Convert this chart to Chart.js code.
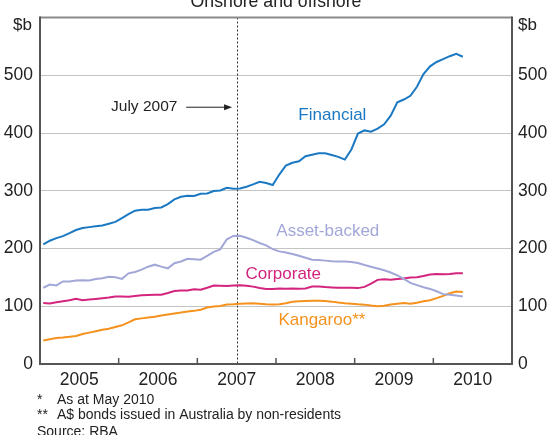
<!DOCTYPE html>
<html>
<head>
<meta charset="utf-8">
<script src="https://cdn.jsdelivr.net/npm/chart.js@4.4.0/dist/chart.umd.min.js"></script>
<style>
  html, body { margin: 0; padding: 0; background: #fff; }
  canvas { display: block; }
</style>
</head>
<body>
<canvas id="bonds" width="551" height="435"></canvas>
<script>
const FONT = '"Liberation Sans", Arial, sans-serif'

// x axis runs in months from Jan 2005 (0) to end of 2010 (72)
const years = ['2005', '2006', '2007', '2008', '2009', '2010']
const yTicks = [0, 100, 200, 300, 400, 500, 600]

// monthly, Jan 2005 - May 2010, $b
const financial = [
  207, 213.5, 218, 221.5, 226.5, 232, 235.5, 237, 238.5, 240, 243, 246,
  252.6, 259.4, 265.5, 267, 267, 270, 271, 277, 285, 289.5, 291.4, 290.8,
  294.9, 295.4, 299.5, 300.6, 305, 303.5, 304, 307, 311, 315.5, 313.5, 310,
  328, 343.5, 348.5, 351, 359.8, 362.5, 365, 365, 362, 358.6, 354, 371.5,
  399, 404.5, 402.3, 407.5, 415, 430, 453, 458, 464.5, 480, 502, 515.5,
  523, 528, 533, 537, 532
]
const assetBacked = [
  132, 137.5, 136, 143, 143, 144.6, 145, 144.6, 147, 148.6, 150.9, 150.3,
  147.4, 157, 159.4, 163.4, 168.5, 172, 168.6, 165.7, 174.5, 177.5, 182.3, 181.5,
  180.6, 187.4, 194.3, 198.5, 216, 221.7, 222, 218.5, 214.5, 209.5, 205.5, 199,
  195, 193, 190.5, 187.5, 184, 180.5, 180, 179, 178, 177.7, 177.7, 176.8,
  175, 171.5, 168.3, 165.5, 162.3, 158.5, 153.5, 147.5, 140.5, 136.5, 133, 130,
  126, 121, 120, 118.5, 117
]
const corporate = [
  105.5, 104.8, 107, 108.6, 110.3, 113, 110.5, 111.5, 112.6, 113.7, 115, 117,
  117, 116.6, 117.7, 119, 119.4, 120, 120, 123, 126.3, 127.4, 127.4, 129.5,
  128.6, 132, 136, 135.4, 135, 136, 136.5, 135.5, 134, 131.5, 130, 130,
  130.6, 130.5, 130.8, 130.4, 130.9, 134, 134.3, 133.2, 132.6, 132, 132, 132,
  131.4, 133.5, 139, 145.7, 146.8, 145.8, 147, 148, 149.7, 150.3, 152.4, 154.8,
  156, 155.4, 156, 157, 157
]
const kangaroo = [
  40.6, 42.8, 45, 45.8, 47, 48.6, 52, 54.3, 56.6, 59.4, 61, 64,
  67, 72, 77.5, 79, 80.6, 81.7, 84, 85.7, 87.4, 89, 91, 92,
  94, 97.7, 99.4, 100.6, 103, 103.4, 104.5, 104.8, 105, 104.5, 103.5, 103,
  103.5, 105.2, 107.7, 108.8, 109.3, 109.7, 109.6, 109, 108, 106.3, 105, 104.5,
  103.5, 102.8, 101.3, 100.2, 100.8, 103, 104.5, 105.7, 104.3, 106, 108.8, 110.5,
  114, 118, 122.5, 125.5, 124.5
]

const july2007 = 30

// series labels sit on the plot in data units (month, $b)
const seriesLabels = [
  { text: 'Financial', x: 44.6, y: 430, color: '#1b79c3' },
  { text: 'Asset-backed', x: 43.9, y: 230, color: '#a3a7d8' },
  { text: 'Corporate', x: 37.1, y: 156, color: '#d3247e' },
  { text: 'Kangaroo**', x: 43.0, y: 75, color: '#f5921e' }
]

const footnotes = [
  ['*', 'As at May 2010'],
  ['**', 'A$ bonds issued in Australia by non-residents'],
  ['Source: RBA', '']
]

const toPoints = arr => arr.map((v, i) => ({ x: i + 0.5, y: v }))

const line = (label, data, color) => ({
  label,
  data: toPoints(data),
  borderColor: color,
  borderWidth: 2,
  pointRadius: 0,
  tension: 0,
  fill: false
})

// frame, year ticks, July 2007 marker and all the loose text
const decorations = {
  id: 'decorations',
  beforeDatasetsDraw(chart) {
    const { ctx, chartArea, scales } = chart
    const xp = scales.x.getPixelForValue(july2007)
    ctx.save()
    ctx.strokeStyle = '#333'
    ctx.lineWidth = 1
    ctx.setLineDash([2, 2])
    ctx.beginPath()
    ctx.moveTo(Math.round(xp) + 0.5, chartArea.top)
    ctx.lineTo(Math.round(xp) + 0.5, chartArea.bottom)
    ctx.stroke()
    ctx.restore()
  },
  afterDraw(chart) {
    const { ctx, chartArea: a, scales } = chart
    const x = scales.x, y = scales.y
    ctx.save()

    // plot frame
    ctx.lineWidth = 2
    ctx.strokeStyle = '#8a8a8a'
    ctx.beginPath()
    ctx.moveTo(a.left, a.top)
    ctx.lineTo(a.right, a.top)
    ctx.stroke()
    ctx.strokeStyle = '#555'
    ctx.beginPath()
    ctx.moveTo(a.left, a.top - 1)
    ctx.lineTo(a.left, a.bottom)
    ctx.lineTo(a.right, a.bottom)
    ctx.lineTo(a.right, a.top - 1)
    ctx.stroke()

    // year boundary ticks, pointing up into the plot
    ctx.lineWidth = 1.5
    for (let m = 12; m < 72; m += 12) {
      const px = x.getPixelForValue(m)
      ctx.beginPath()
      ctx.moveTo(px, a.bottom)
      ctx.lineTo(px, a.bottom - 6)
      ctx.stroke()
    }

    // unit labels
    ctx.fillStyle = '#222'
    ctx.font = '17px ' + FONT
    ctx.textBaseline = 'middle'
    ctx.textAlign = 'right'
    ctx.fillText('$b', a.left - 8, a.top + 8)
    ctx.textAlign = 'left'
    ctx.fillText('$b', a.right + 6, a.top + 8)

    // title, mostly above the canvas
    ctx.textAlign = 'center'
    ctx.textBaseline = 'alphabetic'
    ctx.font = '17.7px ' + FONT
    ctx.fillText('Onshore and offshore', (a.left + a.right) / 2, 7)

    // series labels
    ctx.textBaseline = 'middle'
    ctx.font = '17px ' + FONT
    seriesLabels.forEach(l => {
      ctx.fillStyle = l.color
      ctx.fillText(l.text, x.getPixelForValue(l.x), y.getPixelForValue(l.y))
    })

    // July 2007 pointer
    const ay = y.getPixelForValue(445.5)
    ctx.fillStyle = '#222'
    ctx.font = '15.5px ' + FONT
    ctx.fillText('July 2007', x.getPixelForValue(15.9), ay)
    const x0 = x.getPixelForValue(22.3)
    const x1 = x.getPixelForValue(29.3)
    ctx.strokeStyle = '#222'
    ctx.lineWidth = 1
    ctx.beginPath()
    ctx.moveTo(x0, ay + 0.5)
    ctx.lineTo(x1 - 6, ay + 0.5)
    ctx.stroke()
    ctx.beginPath()
    ctx.moveTo(x1, ay + 0.5)
    ctx.lineTo(x1 - 8, ay - 2.5)
    ctx.lineTo(x1 - 8, ay + 3.5)
    ctx.closePath()
    ctx.fill()

    // footnotes
    ctx.font = '14px ' + FONT
    ctx.textAlign = 'left'
    ctx.textBaseline = 'alphabetic'
    const baselines = [404, 419, 436]
    footnotes.forEach(([mark, text], i) => {
      ctx.fillText(mark, 37, baselines[i])
      if (text) ctx.fillText(text, 57, baselines[i])
    })

    ctx.restore()
  }
}

const tickFont = { family: FONT, size: 17.5 }

new Chart(document.getElementById('bonds'), {
  type: 'line',
  data: {
    datasets: [
      line('Financial', financial, '#1b79c3'),
      line('Asset-backed', assetBacked, '#a3a7d8'),
      line('Corporate', corporate, '#d3247e'),
      line('Kangaroo', kangaroo, '#f5921e')
    ]
  },
  options: {
    responsive: false,
    devicePixelRatio: 1,
    animation: false,
    layout: { padding: { top: 15, left: 0, right: 0, bottom: 0 } },
    plugins: { legend: { display: false }, tooltip: { enabled: false } },
    scales: {
      x: {
        type: 'linear',
        min: 0,
        max: 72,
        afterBuildTicks: s => { s.ticks = years.map((_, i) => ({ value: i * 12 + 6 })) },
        afterFit: s => { s.height = 71 },
        ticks: {
          autoSkip: false,
          maxRotation: 0,
          padding: 6,
          color: '#222',
          font: tickFont,
          callback: v => years[(v - 6) / 12]
        },
        grid: { display: false, drawTicks: false },
        border: { display: false }
      },
      y: {
        position: 'left',
        min: 0,
        max: 600,
        afterBuildTicks: s => { s.ticks = yTicks.map(v => ({ value: v })) },
        afterFit: s => { s.width = 40 },
        ticks: {
          padding: 7,
          color: '#222',
          font: tickFont,
          callback: v => (v === 600 ? '' : v)
        },
        grid: {
          drawTicks: false,
          lineWidth: 1,
          color: c => (c.tick.value === 0 || c.tick.value === 600 ? 'rgba(0,0,0,0)' : '#c4c4c4')
        },
        border: { display: false }
      },
      y2: {
        position: 'right',
        min: 0,
        max: 600,
        afterBuildTicks: s => { s.ticks = yTicks.map(v => ({ value: v })) },
        afterFit: s => { s.width = 39 },
        ticks: {
          padding: 6,
          color: '#222',
          font: tickFont,
          callback: v => (v === 600 ? '' : v)
        },
        grid: { display: false, drawTicks: false },
        border: { display: false }
      }
    }
  },
  plugins: [decorations]
})
</script>
</body>
</html>
